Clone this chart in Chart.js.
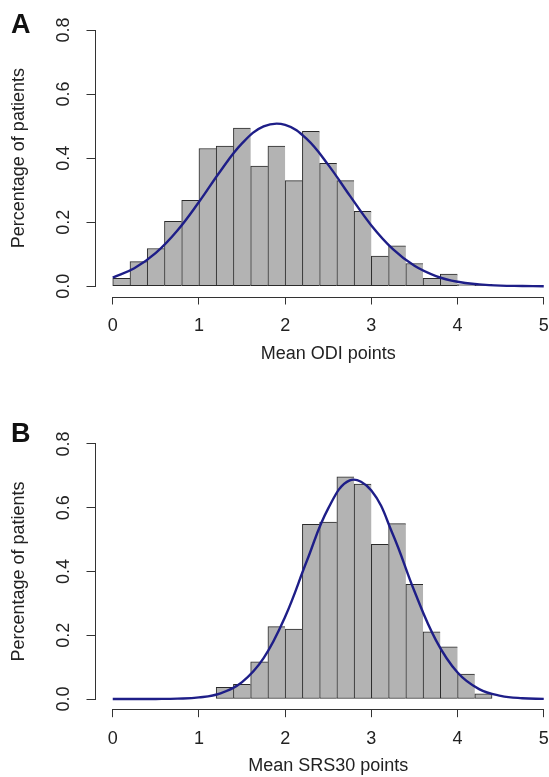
<!DOCTYPE html>
<html>
<head>
<meta charset="utf-8">
<script src="https://cdn.jsdelivr.net/npm/chart.js@4.4.1/dist/chart.umd.min.js"></script>
<style>
  html, body { margin: 0; padding: 0; background: #fff; }
  #page { position: relative; width: 549px; height: 777px; overflow: hidden; background: #fff; }
  .panel { position: absolute; left: 0; }
  .letter { position: absolute; font: bold 27px "Liberation Sans", Arial, sans-serif; line-height: 27px; color: #111; }
</style>
</head>
<body>
<div id="page">
  <canvas id="chartA" class="panel" width="561" height="388" style="top:0px"></canvas>
  <canvas id="chartB" class="panel" width="561" height="389" style="top:388px"></canvas>
  <div class="letter" style="left:11px; top:11px">A</div>
  <div class="letter" style="left:11px; top:420px">B</div>
</div>
<script>
// x ticks and y ticks shared by both panels
const xTicks = [0, 1, 2, 3, 4, 5];
const yTicks = [0, 0.2, 0.4, 0.6, 0.8];

// panel A: ODI histogram (bin midpoints, width 0.2) and density
const odiBinMids = [0.1, 0.3, 0.5, 0.7, 0.9, 1.1, 1.3, 1.5, 1.7, 1.9, 2.1, 2.3, 2.5, 2.7, 2.9, 3.1, 3.3, 3.5, 3.7, 3.9, 4.1, 4.3];
const odiPct = [0.025, 0.077, 0.118, 0.203, 0.268, 0.430, 0.438, 0.494, 0.375, 0.438, 0.330, 0.484, 0.384, 0.330, 0.234, 0.094, 0.126, 0.071, 0.025, 0.038, 0.005, 0.006];

// panel B: SRS30 histogram
const srsBinMids = [1.3, 1.5, 1.7, 1.9, 2.1, 2.3, 2.5, 2.7, 2.9, 3.1, 3.3, 3.5, 3.7, 3.9, 4.1, 4.3];
const srsPct = [0.037, 0.046, 0.117, 0.227, 0.219, 0.548, 0.555, 0.697, 0.674, 0.485, 0.550, 0.360, 0.211, 0.164, 0.078, 0.016];

// fitted curves, read every 0.25 points
const curveX = [0, 0.25, 0.5, 0.75, 1, 1.25, 1.5, 1.75, 2, 2.25, 2.5, 2.75, 3, 3.25, 3.5, 3.75, 4, 4.25, 4.5, 4.75, 5];
const odiCurve = [0.027, 0.056, 0.104, 0.174, 0.263, 0.360, 0.446, 0.499, 0.504, 0.460, 0.379, 0.283, 0.190, 0.116, 0.064, 0.032, 0.014, 0.006, 0.002, 0.001, 0.000];
const srsCurve = [0, 0, 0.0002, 0.0012, 0.005, 0.018, 0.053, 0.128, 0.258, 0.432, 0.598, 0.686, 0.654, 0.516, 0.338, 0.184, 0.083, 0.031, 0.010, 0.0025, 0.0005];

const fontFamily = '"Liberation Sans", Arial, sans-serif';
const inkColor = '#222';
const axisColor = '#333';

// R style detached axes: line only from first to last tick
const axisLines = {
    id: 'axisLines',
    afterDraw(chart) {
        const {ctx, scales: {x, y}} = chart;
        ctx.save();
        ctx.strokeStyle = axisColor;
        ctx.lineWidth = 1;
        ctx.beginPath();
        const yb = Math.round(x.top) + 0.5;
        ctx.moveTo(x.getPixelForValue(xTicks[0]), yb);
        ctx.lineTo(x.getPixelForValue(xTicks.at(-1)), yb);
        const xl = Math.round(y.right) - 0.5;
        ctx.moveTo(xl, y.getPixelForValue(yTicks[0]));
        ctx.lineTo(xl, y.getPixelForValue(yTicks.at(-1)));
        ctx.stroke();
        ctx.restore();
    }
};

function makePanel(id, mids, pct, curve, xTitle, padTop, xHeight, titlePad) {
    const lastBar = mids.length - 1;
    return new Chart(document.getElementById(id), {
        type: 'bar',
        data: {
            datasets: [
                {
                    type: 'line',
                    order: 0,
                    data: curveX.map((v, i) => ({x: v, y: curve[i]})),
                    borderColor: '#1e1e88',
                    borderWidth: 2.4,
                    pointRadius: 0,
                    tension: 0.4,
                    fill: false
                },
                {
                    type: 'bar',
                    order: 1,
                    data: mids.map((v, i) => ({x: v, y: pct[i]})),
                    backgroundColor: '#b3b3b3',
                    borderColor: '#2a2a2a',
                    borderSkipped: false,
                    borderWidth: ctx => ({top: 1, left: 1, bottom: 1, right: ctx.dataIndex === lastBar ? 1 : 0}),
                    barPercentage: 1,
                    categoryPercentage: 1
                }
            ]
        },
        options: {
            responsive: false,
            animation: false,
            devicePixelRatio: 1,
            layout: { padding: { top: padTop, left: 0, right: 0, bottom: 0 } },
            plugins: {
                legend: { display: false },
                tooltip: { enabled: false }
            },
            scales: {
                x: {
                    type: 'linear',
                    min: -0.2,
                    max: 5.2,
                    offset: false,
                    afterBuildTicks: axis => { axis.ticks = xTicks.map(v => ({value: v})); },
                    afterFit: scale => { scale.height = xHeight; },
                    border: { display: false },
                    grid: {
                        offset: false,
                        drawOnChartArea: false,
                        drawTicks: true,
                        tickLength: 8,
                        color: axisColor,
                        lineWidth: 1
                    },
                    ticks: {
                        color: inkColor,
                        padding: 11,
                        maxRotation: 0,
                        font: { family: fontFamily, size: 18 },
                        callback: v => String(v)
                    },
                    title: {
                        display: true,
                        text: xTitle,
                        color: inkColor,
                        padding: { top: 0, bottom: titlePad },
                        font: { family: fontFamily, size: 18 }
                    }
                },
                y: {
                    min: -0.032,
                    max: 0.832,
                    afterBuildTicks: axis => { axis.ticks = yTicks.map(v => ({value: v})); },
                    afterFit: scale => {
                        scale.width = 95.5;
                        scale.paddingTop = 0;
                        scale.paddingBottom = 0;
                    },
                    border: { display: false },
                    grid: {
                        drawOnChartArea: false,
                        drawTicks: true,
                        tickLength: 9,
                        color: axisColor,
                        lineWidth: 1
                    },
                    ticks: {
                        color: inkColor,
                        padding: 10,
                        minRotation: 90,
                        maxRotation: 90,
                        crossAlign: 'center',
                        font: { family: fontFamily, size: 18 },
                        callback: v => v.toFixed(1)
                    },
                    title: {
                        display: true,
                        text: 'Percentage of patients',
                        color: inkColor,
                        padding: { top: 8, bottom: 0 },
                        font: { family: fontFamily, size: 18 }
                    }
                }
            }
        },
        plugins: [axisLines]
    });
}

makePanel('chartA', odiBinMids, odiPct, odiCurve, 'Mean ODI points', 19.8, 91.5, 23);
makePanel('chartB', srsBinMids, srsPct, srsCurve, 'Mean SRS30 points', 45.8, 67.8, 0);
</script>
</body>
</html>
